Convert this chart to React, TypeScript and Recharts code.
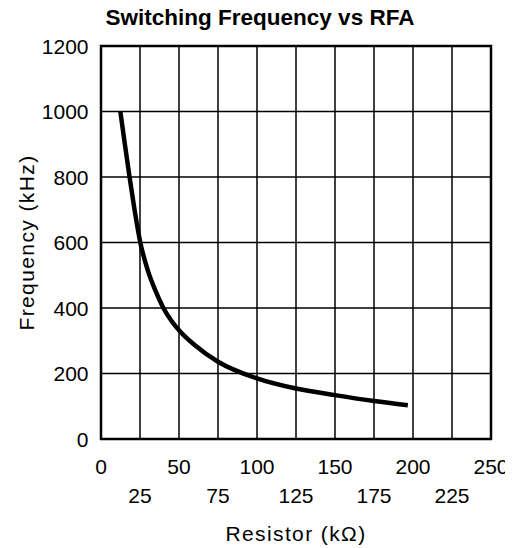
import { LineChart, Line, XAxis, YAxis, CartesianGrid, ReferenceArea, Label } from 'recharts';

// values
const resistorK = [12.4, 15.3, 18.3, 21.5, 25.2, 30, 35, 40, 45, 50, 60, 75, 100, 125, 150, 175, 196.7];
const freqKHz = [1000, 900, 800, 700, 600, 515, 452, 400, 362, 332, 287, 236, 185, 154, 134, 116, 103];
const xTicks = [0, 25, 50, 75, 100, 125, 150, 175, 200, 225, 250];
const yTicks = [0, 200, 400, 600, 800, 1000, 1200];

const rows = resistorK.map((r, i) => ({ r, f: freqKHz[i] }));

const FONT = '"Liberation Sans", Arial, sans-serif';

function XTick(props: any) {
  const { x, y, payload } = props;
  // alternate ticks drop to a second row
  const lower = payload.value % 50 !== 0;
  return (
    <text
      x={x}
      y={y + (lower ? 56 : 27.5)}
      textAnchor="middle"
      dominantBaseline="central"
      fontFamily={FONT}
      fontSize={21}
      fill="#000"
    >
      {payload.value}
    </text>
  );
}

function YTick(props: any) {
  const { x, y, payload } = props;
  return (
    <text
      x={x - 12.5}
      y={y}
      textAnchor="end"
      dominantBaseline="central"
      fontFamily={FONT}
      fontSize={21}
      fill="#000"
    >
      {payload.value}
    </text>
  );
}

function YLabel(props: any) {
  const vb = props.viewBox;
  const cy = vb.y + vb.height / 2;
  return (
    <text
      x={18}
      y={cy}
      transform={`rotate(-90, 18, ${cy})`}
      textAnchor="middle"
      dominantBaseline="central"
      fontFamily={FONT}
      fontSize={21}
      letterSpacing={1.4}
      fill="#000"
    >
      Frequency (kHz)
    </text>
  );
}

export default function App() {
  return (
    <div style={{ position: 'relative', width: 505, height: 540 }}>
      <div
        style={{
          position: 'absolute',
          left: 52,
          top: -3,
          width: 400,
          textAlign: 'center',
          fontFamily: FONT,
          fontWeight: 'bold',
          fontSize: 22.5,
          lineHeight: '26px',
          color: '#000',
        }}
      >
        Switching Frequency vs RFA
      </div>
      <LineChart width={505} height={540} data={rows} margin={{ top: 38, right: 22, bottom: 0, left: 0 }}>
        <CartesianGrid stroke="#000" strokeWidth={1.5} />
        <XAxis
          dataKey="r"
          type="number"
          domain={[0, 250]}
          ticks={xTicks}
          interval={0}
          height={109}
          axisLine={false}
          tickLine={false}
          tickSize={0}
          tickMargin={0}
          tick={<XTick />}
        >
          <Label
            value="Resistor (kΩ)"
            position="insideBottom"
            offset={7}
            style={{ fontFamily: FONT, fontSize: 21, letterSpacing: 1.4, fill: '#000' }}
          />
        </XAxis>
        <YAxis
          type="number"
          domain={[0, 1200]}
          ticks={yTicks}
          interval={0}
          width={93}
          axisLine={false}
          tickLine={false}
          tickSize={0}
          tickMargin={0}
          tick={<YTick />}
        >
          <Label content={<YLabel />} />
        </YAxis>
        <ReferenceArea x1={0} x2={250} y1={0} y2={1200} fill="none" stroke="#000" strokeWidth={2.5} />
        <Line
          dataKey="f"
          type="monotone"
          stroke="#000"
          strokeWidth={4.5}
          dot={false}
          isAnimationActive={false}
        />
      </LineChart>
    </div>
  );
}
